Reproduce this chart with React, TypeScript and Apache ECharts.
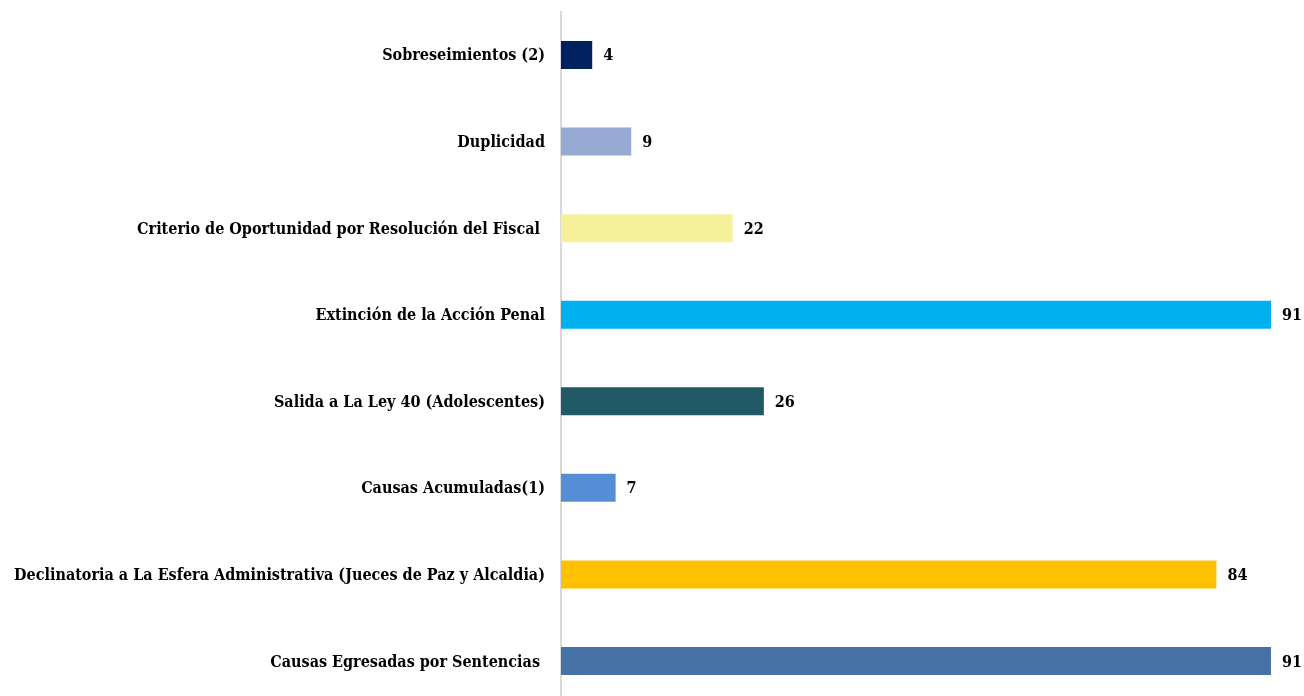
import React, { useEffect, useRef } from "react";
import * as echarts from "echarts";

const categories = [
  "Sobreseimientos (2)",
  "Duplicidad",
  "Criterio de Oportunidad por Resolución del Fiscal ",
  "Extinción de la Acción Penal",
  "Salida a La Ley 40 (Adolescentes)",
  "Causas Acumuladas(1)",
  "Declinatoria a La Esfera Administrativa (Jueces de Paz y Alcaldia)",
  "Causas Egresadas por Sentencias ",
];
const values = [4, 9, 22, 91, 26, 7, 84, 91];
const colors = ["#002060", "#95A9D3", "#F5F19B", "#00B0F0", "#215967", "#558ED5", "#FFC000", "#4672A8"];

const FONT = "'DejaVu Serif Condensed', 'Liberation Serif', serif";

export default function App() {
  const ref = useRef<HTMLDivElement>(null);
  useEffect(() => {
    const chart = echarts.init(ref.current!, null, { renderer: "svg" });
    chart.setOption({
      animation: false,
      grid: { left: 561, right: 33, top: 11.7, height: 692.6, containLabel: false },
      xAxis: {
        type: "value",
        min: 0,
        max: 91,
        show: false,
      },
      yAxis: {
        type: "category",
        inverse: true,
        data: categories,
        axisLine: { show: true, lineStyle: { color: "#D9D9D9", width: 2 } },
        axisTick: { show: false },
        axisLabel: {
          margin: 16,
          color: "#000",
          fontFamily: FONT,
          fontWeight: "bold",
          fontSize: 16,
        },
      },
      series: [
        {
          type: "bar",
          barWidth: 28,
          data: values.map((v, i) => ({ value: v, itemStyle: { color: colors[i] } })),
          label: {
            show: true,
            position: "right",
            distance: 11,
            color: "#000",
            fontFamily: FONT,
            fontWeight: "bold",
            fontSize: 16,
          },
        },
      ],
    });
    return () => chart.dispose();
  }, []);
  return <div ref={ref} style={{ position: "fixed", left: 0, top: 0, width: 1304, height: 730 }} />;
}
